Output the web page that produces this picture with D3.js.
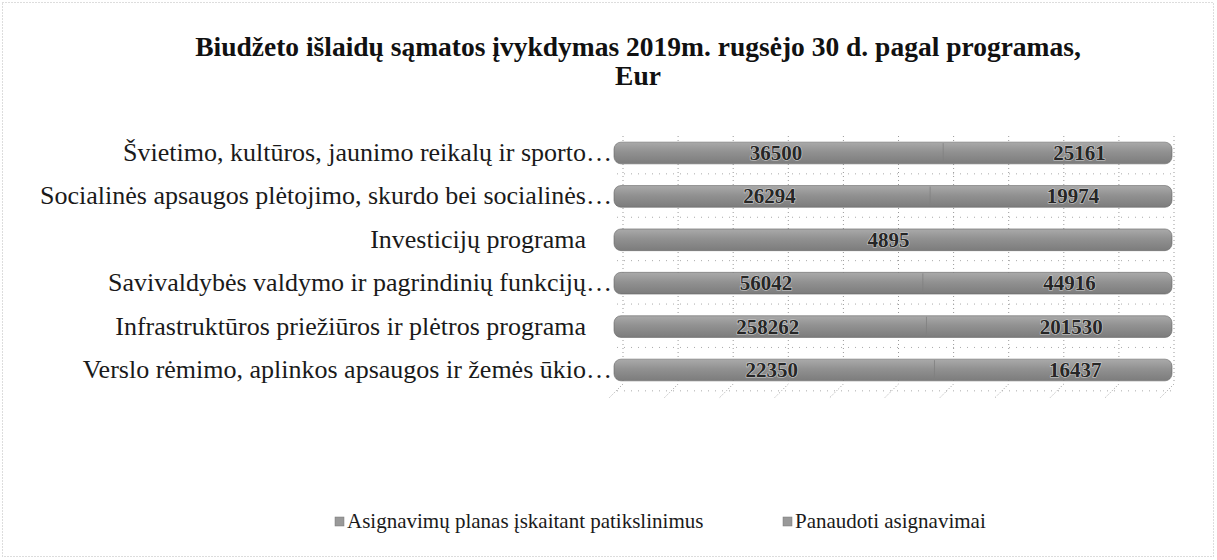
<!DOCTYPE html>
<html><head><meta charset="utf-8">
<script src="https://cdn.jsdelivr.net/npm/d3@7"></script>
<style>body{margin:0;background:#fff}svg{display:block}</style>
</head><body><svg id="c" width="1217" height="560"></svg>
<script>
const categories = [
  "Švietimo, kultūros, jaunimo reikalų ir sporto…",
  "Socialinės apsaugos plėtojimo, skurdo bei socialinės…",
  "Investicijų programa    ",
  "Savivaldybės valdymo ir pagrindinių funkcijų…",
  "Infrastruktūros priežiūros ir plėtros programa    ",
  "Verslo rėmimo, aplinkos apsaugos ir žemės ūkio…"
];
const planas = [36500, 26294, 4895, 56042, 258262, 22350];
const panaudoti = [25161, 19974, null, 44916, 201530, 16437];
const seriesNames = ["Asignavimų planas įskaitant patikslinimus", "Panaudoti asignavimai"];
const titleLines = ["Biudžeto išlaidų sąmatos įvykdymas 2019m. rugsėjo 30 d. pagal programas,", "Eur"];
const pctTicks = [0,0.1,0.2,0.3,0.4,0.5,0.6,0.7,0.8,0.9,1];

const svg = d3.select("#c");
const W = 1217, H = 560;
svg.append("rect").attr("x",2.5).attr("y",2.5).attr("width",W-6).attr("height",H-6)
  .attr("fill","none").attr("stroke","#bbb").attr("stroke-dasharray","1,2");

const defs = svg.append("defs");
const g1 = defs.append("linearGradient").attr("id","bar").attr("x1",0).attr("y1",0).attr("x2",0).attr("y2",1);
g1.append("stop").attr("offset","0%").attr("stop-color","#aaaaaa");
g1.append("stop").attr("offset","45%").attr("stop-color","#919191");
g1.append("stop").attr("offset","100%").attr("stop-color","#7c7c7c");

svg.append("g").selectAll("text").data(titleLines).join("text")
  .attr("x", 638).attr("y",(d,i)=>56+i*29).attr("text-anchor","middle")
  .attr("font-family","Liberation Serif").attr("font-weight","bold").attr("font-size",27.5)
  .attr("fill","#111").text(d=>d);

const x = d3.scaleLinear().domain([0,1]).range([617,1168]);
const y = d3.scaleBand().domain(categories).range([131.3,391.7]).paddingInner(0.5).paddingOuter(0.25);

// gridlines
const grid = svg.append("g");
grid.selectAll("line.v").data(pctTicks).join("line")
  .attr("x1",d=>x(d)+6).attr("x2",d=>x(d)+6).attr("y1",136).attr("y2",384)
  .attr("stroke","#999").attr("stroke-dasharray","1,3");
grid.selectAll("line.d").data(pctTicks).join("line")
  .attr("x1",d=>x(d)+6).attr("x2",d=>x(d)-8).attr("y1",384).attr("y2",398)
  .attr("stroke","#999").attr("stroke-dasharray","1,2");
grid.selectAll("line.h").data(categories).join("line")
  .attr("x1",x(0)).attr("x2",x(1)+8).attr("y1",d=>y(d)+y.bandwidth()+10).attr("y2",d=>y(d)+y.bandwidth()+10)
  .attr("stroke","#aaa").attr("stroke-dasharray","1,6");

const rows = categories.map((c,i)=>{
  const tot = planas[i] + (panaudoti[i]||0);
  return {c, p: planas[i], u: panaudoti[i], tot};
});

const bars = svg.append("g");
bars.selectAll("rect").data(rows).join("rect")
  .attr("x",x(0)-3).attr("y",d=>y(d.c)).attr("width",x(1)-x(0)+7).attr("height",y.bandwidth())
  .attr("rx",7).attr("fill","url(#bar)").attr("stroke","#666").attr("stroke-width",0.6);
bars.selectAll("line").data(rows.filter(d=>d.u)).join("line")
  .attr("x1",d=>x(d.p/d.tot)).attr("x2",d=>x(d.p/d.tot)).attr("y1",d=>y(d.c)+1).attr("y2",d=>y(d.c)+y.bandwidth()-1)
  .attr("stroke","#808080").attr("stroke-width",0.8);

const labs = [];
rows.forEach(d=>{
  labs.push({c:d.c, v:d.p, cx: x(d.p/d.tot/2)-4});
  if (d.u) labs.push({c:d.c, v:d.u, cx: x(d.p/d.tot + d.u/d.tot/2)+24});
});
svg.append("g").selectAll("text").data(labs).join("text")
  .attr("x",d=>d.cx).attr("y",d=>y(d.c)+y.bandwidth()/2+7).attr("text-anchor","middle")
  .attr("font-family","Liberation Serif").attr("font-weight","bold").attr("font-size",21)
  .attr("fill","#262626").attr("stroke","#d0d0d0").attr("stroke-width",1.2).attr("paint-order","stroke")
  .text(d=>d.v);

svg.append("g").selectAll("text").data(categories).join("text")
  .attr("x",x(0)-5).attr("y",d=>y(d)+y.bandwidth()/2+8).attr("text-anchor","end")
  .attr("font-family","Liberation Serif").attr("font-size",26).attr("fill","#1a1a1a")
  .style("white-space","pre").text(d=>d);

const leg = svg.append("g");
const lx = [335, 783];
seriesNames.forEach((n,i)=>{
  leg.append("rect").attr("x",lx[i]).attr("y",517).attr("width",9).attr("height",9).attr("fill","#999").attr("stroke","#777").attr("stroke-width",0.5);
  leg.append("text").attr("x",lx[i]+12).attr("y",528).attr("font-family","Liberation Serif").attr("font-size",21).attr("fill","#1a1a1a").text(n);
});
</script></body></html>
